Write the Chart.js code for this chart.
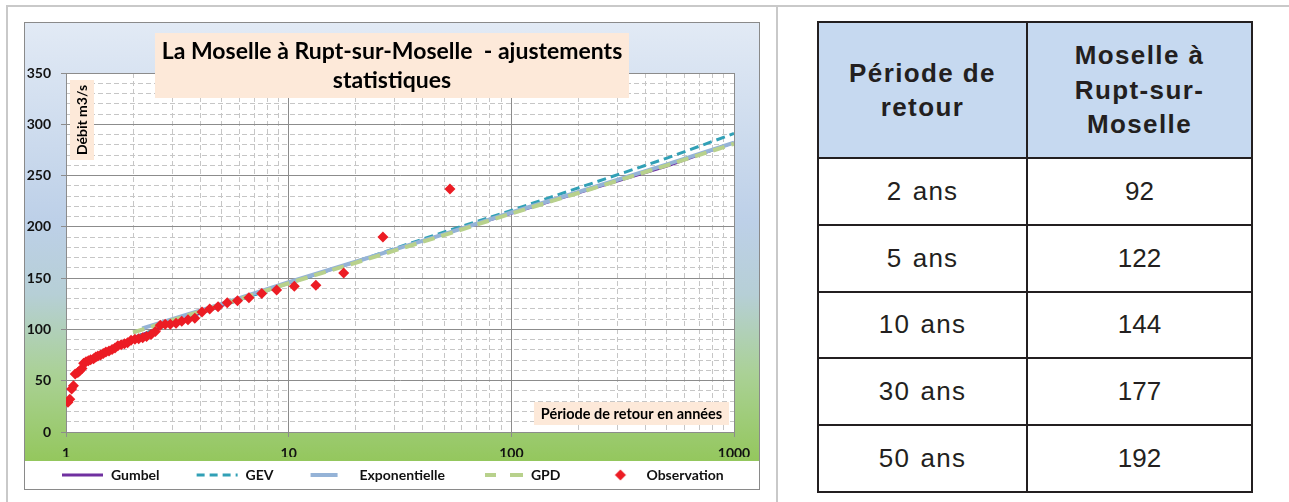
<!DOCTYPE html>
<html><head><meta charset="utf-8">
<script src="https://cdn.jsdelivr.net/npm/chart.js@4"></script>
<style>
html,body{margin:0;padding:0;background:#fff;width:1289px;height:502px;overflow:hidden;position:relative;font-family:Lato,sans-serif}
#frameTop{position:absolute;left:6px;top:5px;width:1283px;height:2px;background:#c9c9c9}
#frameLeft{position:absolute;left:6px;top:5px;width:2px;height:497px;background:#c9c9c9}
#frameMid{position:absolute;left:776px;top:5px;width:2px;height:497px;background:#c9c9c9}
#chartBox{position:absolute;left:24px;top:22px;width:734px;height:466px;border:1px solid #8a8a8a}
#chartBox canvas{display:block}
#tbl{position:absolute;left:817px;top:21px;width:434px;border-collapse:collapse;table-layout:fixed;font-family:"Liberation Sans",Arial,sans-serif;color:#231f20}
#tbl td,#tbl th{border:2.5px solid #231f20;text-align:center;vertical-align:middle;padding:0;font-family:"Liberation Sans",Arial,sans-serif}
#tbl th{background:#c6d9f0;font-weight:bold;font-size:26px;letter-spacing:1.4px;line-height:34.5px;height:134px}
#tbl td{font-size:26px;height:64.8px}
#tbl td.p{letter-spacing:1.2px;word-spacing:2px}
</style></head>
<body>
<div id="frameTop"></div><div id="frameLeft"></div><div id="frameMid"></div>
<div id="chartBox"><canvas id="c" width="734" height="466"></canvas></div>
<table id="tbl"><colgroup><col style="width:209px"><col style="width:225px"></colgroup>
<thead><tr><th>Période de<br>retour</th><th>Moselle à<br>Rupt-sur-<br>Moselle</th></tr></thead>
<tbody id="tb"></tbody></table>
<script>
// ---- Data ----
const tablePeriods = ['2 ans', '5 ans', '10 ans', '30 ans', '50 ans'];
const tableFlows = [92, 122, 144, 177, 192];

const xMajorTicks = [1, 10, 100, 1000];
const xTickLabels = ['1', '10', '100', '1000'];
const xMinorTicks = [2, 3, 4, 5, 6, 7, 8, 9, 20, 30, 40, 50, 60, 70, 80, 90, 200, 300, 400, 500, 600, 700, 800, 900];
const yMajorTicks = [0, 50, 100, 150, 200, 250, 300, 350];
const yMinorTicks = [10, 20, 30, 40, 60, 70, 80, 90, 110, 120, 130, 140, 160, 170, 180, 190, 210, 220, 230, 240, 260, 270, 280, 290, 310, 320, 330, 340];

const fitPeriods = [2, 3, 5, 10, 20, 30, 50, 100, 200, 500, 1000];
const gumbelFlows = [92, 106, 123, 145, 166, 178, 193, 213, 233, 259, 282];
const gevFlows = [92, 106, 123, 145, 166, 179, 195, 216, 238, 267, 291];
const expoPeriods = [2.2, 3, 5, 10, 20, 30, 50, 100, 200, 500, 1000];
const expoFlows = [101, 110, 125, 146, 166, 178, 193, 214, 234, 261, 282];
const gpdFlows = [97, 109, 124, 145, 165, 177, 192, 213, 233, 260, 281];

const obsPeriods = [53, 26.5, 17.67, 13.25, 10.6, 8.83, 7.57, 6.63, 5.89, 5.3, 4.82, 4.42, 4.08, 3.79, 3.53, 3.31, 3.12, 2.94, 2.79, 2.65, 2.52, 2.41, 2.3, 2.21, 2.12, 2.04, 1.96, 1.89, 1.83, 1.77, 1.71, 1.66, 1.61, 1.56, 1.51, 1.47, 1.43, 1.39, 1.36, 1.33, 1.29, 1.26, 1.23, 1.2, 1.18, 1.15, 1.13, 1.1, 1.08, 1.06, 1.04, 1.02];
const obsFlows = [237, 190, 155, 143, 142, 138.5, 135, 131, 128, 126, 122, 120, 117, 111, 109.5, 108, 106, 105, 105, 104, 98, 95, 93, 92, 91, 90.5, 89.5, 87, 86, 85, 84, 82, 80.5, 79, 78, 76.5, 75, 74, 73, 71.5, 70.5, 69.5, 68.5, 67, 62, 59.5, 58, 56.5, 45, 42, 32, 29];

const seriesNames = ['Gumbel', 'GEV', 'Exponentielle', 'GPD', 'Observation'];
const titleLines = ['La Moselle à Rupt-sur-Moselle  - ajustements', 'statistiques'];
const yTitle = 'Débit m3/s';
const xTitle = 'Période de retour en années';

// ---- Table ----
const tb = document.getElementById('tb');
tablePeriods.forEach((p, i) => {
  const tr = document.createElement('tr');
  const a = document.createElement('td'); a.className = 'p'; a.textContent = p;
  const b = document.createElement('td'); b.textContent = tableFlows[i];
  tr.appendChild(a); tr.appendChild(b); tb.appendChild(tr);
});

// ---- Chart ----
const COLORS = { gumbel: '#7030a0', gev: '#31a0b6', expo: '#95b3d7', gpd: '#b8d18c', obs: '#ec1c24' };
const pts = (xs, ys) => xs.map((x, i) => ({ x: x, y: ys[i] }));
const FONT = 'Lato, "DejaVu Sans", sans-serif';
const SW = 68;

function sample(draw) {
  const c = document.createElement('canvas'); c.width = SW; c.height = 12;
  const g = c.getContext('2d'); draw(g); return c;
}
const legendSamples = [
  sample(g => { g.strokeStyle = COLORS.gumbel; g.lineWidth = 3; g.beginPath(); g.moveTo(SW - 42, 6); g.lineTo(SW - 1, 6); g.stroke(); }),
  sample(g => { g.strokeStyle = COLORS.gev; g.lineWidth = 3; g.setLineDash([8, 5]); g.beginPath(); g.moveTo(SW - 42, 6); g.lineTo(SW - 1, 6); g.stroke(); }),
  sample(g => { g.strokeStyle = COLORS.expo; g.lineWidth = 4; g.beginPath(); g.moveTo(SW - 42, 6); g.lineTo(SW - 15, 6); g.stroke(); }),
  sample(g => { g.strokeStyle = COLORS.gpd; g.lineWidth = 4; g.beginPath(); g.moveTo(SW - 39, 6); g.lineTo(SW - 28, 6); g.moveTo(SW - 14, 6); g.lineTo(SW - 1, 6); g.stroke(); }),
  sample(g => { const cx = SW - 19; g.fillStyle = COLORS.obs; g.beginPath(); g.moveTo(cx - 5.5, 6); g.lineTo(cx, 0.5); g.lineTo(cx + 5.5, 6); g.lineTo(cx, 11.5); g.closePath(); g.fill(); })
];

const bgPlugin = {
  id: 'bg',
  beforeDraw(chart) {
    const { ctx, width, height, chartArea: a } = chart;
    const lt = chart.legend.top + 4;
    const g = ctx.createLinearGradient(0, 0, 0, lt);
    g.addColorStop(0, '#e2eaf5');
    g.addColorStop(0.45, '#bdd0e8');
    g.addColorStop(0.62, '#b6cfd6');
    g.addColorStop(0.8, '#aad196');
    g.addColorStop(1, '#94c75d');
    ctx.save();
    ctx.fillStyle = g; ctx.fillRect(0, 0, width, lt);
    ctx.fillStyle = '#ffffff'; ctx.fillRect(0, lt, width, height - lt);
    ctx.fillRect(a.left, a.top, a.right - a.left, a.bottom - a.top);
    ctx.restore();
  }
};

const overlayPlugin = {
  id: 'overlay',
  afterDraw(chart) {
    const ctx = chart.ctx;
    ctx.save();
    ctx.fillStyle = '#fde9d9';
    ctx.fillRect(130, 10, 474, 65);
    ctx.fillStyle = '#000';
    ctx.textAlign = 'center'; ctx.textBaseline = 'middle';
    ctx.font = 'bold 23px ' + FONT;
    ctx.fillText(titleLines[0], 367, 29);
    ctx.fillText(titleLines[1], 367, 58);
    // y title
    ctx.fillStyle = '#fde9d9';
    ctx.fillRect(45, 57, 24, 80);
    ctx.save();
    ctx.translate(57.5, 97); ctx.rotate(-Math.PI / 2);
    ctx.fillStyle = '#000'; ctx.font = 'bold 14px ' + FONT;
    ctx.fillText(yTitle, 0, 0);
    ctx.restore();
    // x title
    ctx.fillStyle = '#fde9d9';
    ctx.fillRect(509, 379, 195, 23);
    ctx.fillStyle = '#000'; ctx.font = 'bold 14.5px ' + FONT;
    ctx.fillText(xTitle, 606.5, 391);
    ctx.restore();
  }
};

new Chart(document.getElementById('c'), {
  type: 'scatter',
  data: {
    datasets: [
      { label: seriesNames[0], data: pts(fitPeriods, gumbelFlows), showLine: true, borderColor: COLORS.gumbel, backgroundColor: COLORS.gumbel, borderWidth: 2.5, pointRadius: 0, tension: 0, order: 4 },
      { label: seriesNames[1], data: pts(fitPeriods, gevFlows), showLine: true, borderColor: COLORS.gev, backgroundColor: COLORS.gev, borderWidth: 3, borderDash: [9, 5], pointRadius: 0, tension: 0, order: 3 },
      { label: seriesNames[2], data: pts(expoPeriods, expoFlows), showLine: true, borderColor: COLORS.expo, backgroundColor: COLORS.expo, borderWidth: 4, pointRadius: 0, tension: 0, order: 2 },
      { label: seriesNames[3], data: pts(fitPeriods, gpdFlows), showLine: true, borderColor: COLORS.gpd, backgroundColor: COLORS.gpd, borderWidth: 4, borderDash: [12, 7], pointRadius: 0, tension: 0, order: 1 },
      { label: seriesNames[4], data: pts(obsPeriods, obsFlows), showLine: false, pointStyle: 'rectRot', pointRadius: 5.5, borderWidth: 0, backgroundColor: COLORS.obs, borderColor: COLORS.obs, order: 0 }
    ]
  },
  options: {
    responsive: false, animation: false, events: [],
    layout: { padding: { left: 0, top: 50, right: 0, bottom: -3 } },
    scales: {
      x: {
        type: 'logarithmic', min: 1, max: 1000, position: 'bottom',
        afterBuildTicks: s => { s.ticks = xMajorTicks.map(v => ({ value: v, major: true })); },
        afterFit: s => { s.height = 25; },
        ticks: { autoSkip: false, maxRotation: 0, padding: 8, color: '#111', font: { family: FONT, weight: 'bold', size: 14 }, callback: (v, i) => xTickLabels[i] },
        grid: { color: '#8c8c8c', tickLength: 5 },
        border: { color: '#8c8c8c' }
      },
      xm: {
        type: 'logarithmic', min: 1, max: 1000, position: 'bottom',
        afterBuildTicks: s => { s.ticks = xMinorTicks.map(v => ({ value: v })); },
        afterFit: s => { s.height = 0; },
        ticks: { display: false },
        grid: { color: '#c6c6c6', drawTicks: false },
        border: { display: false, dash: [5, 3] }
      },
      y: {
        type: 'linear', min: 0, max: 350, position: 'left',
        afterBuildTicks: s => { s.ticks = yMajorTicks.map(v => ({ value: v })); },
        afterFit: s => { s.width = 41; },
        ticks: { padding: 10, color: '#111', font: { family: FONT, weight: 'bold', size: 14 } },
        grid: { color: '#8c8c8c', tickLength: 5 },
        border: { color: '#8c8c8c' }
      },
      ym: {
        type: 'linear', min: 0, max: 350, position: 'left',
        afterBuildTicks: s => { s.ticks = yMinorTicks.map(v => ({ value: v })); },
        afterFit: s => { s.width = 0; },
        ticks: { display: false },
        grid: { color: '#c6c6c6', drawTicks: false },
        border: { display: false, dash: [5, 3] }
      },
      yr: {
        type: 'linear', min: 0, max: 350, position: 'right',
        afterFit: s => { s.width = 25; },
        ticks: { display: false },
        grid: { display: false, drawTicks: false },
        border: { display: false }
      }
    },
    plugins: {
      title: { display: false },
      tooltip: { enabled: false },
      legend: {
        position: 'bottom', align: 'start',
        labels: {
          usePointStyle: true, pointStyleWidth: SW, padding: 11, color: '#111',
          font: { family: FONT, weight: 'bold', size: 14 },
          generateLabels: chart => Chart.defaults.plugins.legend.labels.generateLabels(chart).map(it => Object.assign(it, { pointStyle: legendSamples[it.datasetIndex], lineDash: [], rotation: 0 })),
          sort: (a, b) => a.datasetIndex - b.datasetIndex
        }
      }
    }
  },
  plugins: [bgPlugin, overlayPlugin]
});
</script>
</body></html>
